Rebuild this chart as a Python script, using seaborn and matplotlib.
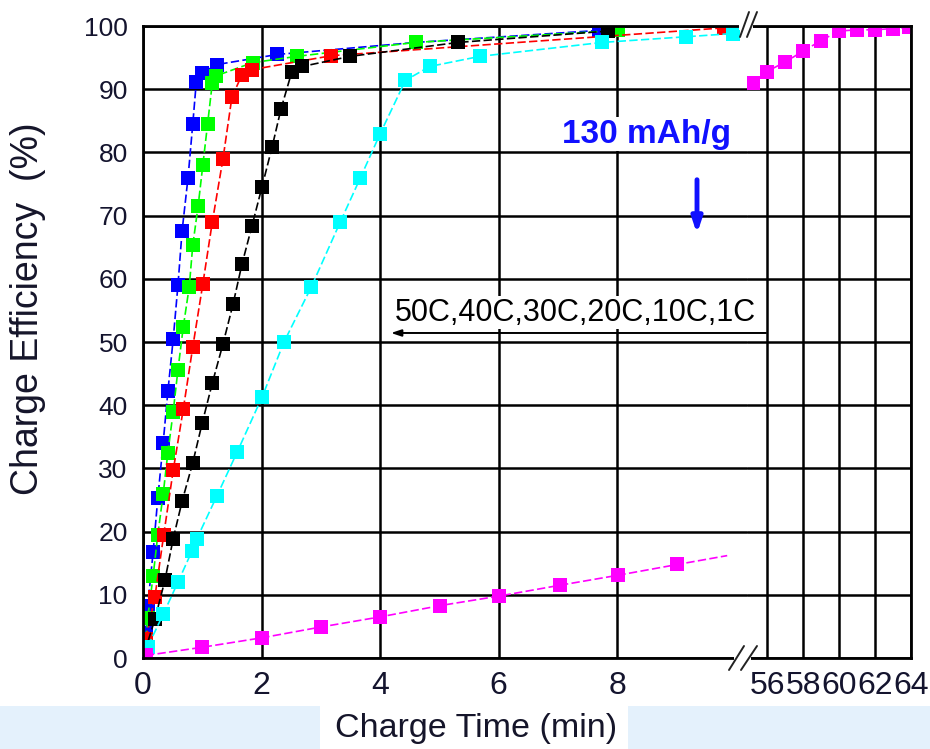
import matplotlib
matplotlib.use("Agg")
import matplotlib.pyplot as plt
import seaborn as sns
from matplotlib.lines import Line2D
from matplotlib.patches import Rectangle

# ---- data: charge time (min) vs charge efficiency (%) ----
rates = ["50C", "40C", "30C", "20C", "10C", "1C"]

t_50c = [0.05, 0.08, 0.17, 0.25, 0.34, 0.42, 0.51, 0.59, 0.66, 0.76, 0.84,
         0.90, 1.00, 1.25, 2.27, 4.60, 7.69]
e_50c = [4.0, 8.2, 16.7, 25.3, 34.0, 42.2, 50.5, 59.0, 67.6, 76.0, 84.5,
         91.2, 92.6, 93.9, 95.5, 97.4, 99.3]

t_40c = [0.05, 0.08, 0.17, 0.25, 0.34, 0.42, 0.51, 0.59, 0.68, 0.78, 0.84,
         0.93, 1.01, 1.09, 1.17, 1.23, 1.85, 2.60, 4.60, 8.02]
e_40c = [3.0, 6.4, 12.9, 19.5, 25.9, 32.5, 39.0, 45.6, 52.4, 58.7, 65.3,
         71.5, 78.0, 84.5, 91.0, 92.1, 94.2, 95.2, 97.4, 99.3]

t_30c = [0.05, 0.20, 0.35, 0.51, 0.68, 0.84, 1.01, 1.17, 1.35, 1.50, 1.67,
         1.84, 3.18, 9.80]
e_30c = [3.0, 9.6, 19.5, 29.7, 39.4, 49.2, 59.2, 69.0, 79.0, 88.7, 92.3,
         93.1, 95.3, 99.7]

t_20c = [0.03, 0.20, 0.37, 0.51, 0.66, 0.84, 1.00, 1.17, 1.35, 1.52, 1.67,
         1.84, 2.01, 2.18, 2.33, 2.51, 2.69, 3.50, 5.32, 7.85]
e_20c = [1.0, 6.1, 12.3, 18.9, 24.8, 30.9, 37.2, 43.5, 49.7, 56.0, 62.3,
         68.4, 74.6, 80.9, 86.9, 92.7, 93.6, 95.2, 97.4, 99.2]

t_10c = [0.08, 0.34, 0.59, 0.83, 0.91, 1.25, 1.59, 2.01, 2.38, 2.84, 3.33,
         3.67, 4.00, 4.43, 4.84, 5.69, 7.75, 9.17, 9.95]
e_10c = [1.8, 6.9, 12.0, 17.0, 18.9, 25.7, 32.6, 41.3, 50.0, 58.7, 69.0,
         76.0, 82.9, 91.4, 93.6, 95.2, 97.4, 98.3, 98.8]

t_1c_early = [0.05, 1.0, 2.01, 3.0, 4.0, 5.02, 6.01, 7.03, 8.02, 9.02, 9.86]
e_1c_early = [0.4, 1.7, 3.2, 4.9, 6.5, 8.3, 9.8, 11.5, 13.1, 14.8, 16.2]

t_1c_late = [55.2, 56, 57, 58, 59, 60, 61, 62, 63, 63.9]
e_1c_late = [91.0, 92.8, 94.3, 96.0, 97.7, 99.2, 99.4, 99.4, 99.6, 99.8]

xticks_early = [0, 2, 4, 6, 8]
xticks_late = [56, 58, 60, 62, 64]
yticks = list(range(0, 101, 10))

colors = {"50C": "#0000ff", "40C": "#00ff00", "30C": "#ff0000",
          "20C": "#000000", "10C": "#00ffff", "1C": "#ff00ff"}

# ---- style ----
sns.set_style("white")
plt.rcParams["font.family"] = ["Liberation Sans", "DejaVu Sans"]
TICK_COLOR = "#14142e"

W, H = 930, 749
fig = plt.figure(figsize=(W / 100, H / 100), dpi=100)


def fx(px):
    return px / W


def fy(py):
    return 1 - py / H


LEFT, MID, RIGHT = 143, 747, 911
TOP, BOTTOM = 26, 658
ax1 = fig.add_axes([fx(LEFT), fy(BOTTOM), fx(MID) - fx(LEFT), fy(TOP) - fy(BOTTOM)])
ax2 = fig.add_axes([fx(MID), fy(BOTTOM), fx(RIGHT) - fx(MID), fy(TOP) - fy(BOTTOM)])
ax1.set_zorder(2)


def draw(ax, x, y, color, markevery=None):
    sns.lineplot(x=x, y=y, ax=ax, color=color, sort=False, estimator=None,
                 linestyle=(0, (5, 2)), linewidth=1.2, marker="s",
                 markersize=10, markeredgewidth=0, markevery=markevery)


draw(ax1, t_50c, e_50c, colors["50C"])
draw(ax1, t_40c, e_40c, colors["40C"])
draw(ax1, t_30c, e_30c, colors["30C"])
draw(ax1, t_20c, e_20c, colors["20C"])
draw(ax1, t_10c, e_10c, colors["10C"])
draw(ax1, t_1c_early, e_1c_early, colors["1C"],
     markevery=list(range(len(t_1c_early) - 1)))
draw(ax2, t_1c_late, e_1c_late, colors["1C"])

# ---- axes, grid, ticks ----
ax1.set_xlim(0, (MID - LEFT) / 59.25)
ax2.set_xlim(56 - (767 - MID) / 18.0, 64)
for ax in (ax1, ax2):
    ax.set_ylim(0, 100)
    ax.set_yticks(yticks)
    ax.grid(True, color="black", linewidth=1.8)
    ax.set_axisbelow(True)
    ax.tick_params(length=0)
    for s in ax.spines.values():
        s.set_color("black")
        s.set_linewidth(2)
    ax.set_xlabel("")
    ax.set_ylabel("")

ax1.set_xticks(xticks_early)
ax1.set_xticklabels([str(v) for v in xticks_early])
ax2.set_xticks(xticks_late)
ax2.set_xticklabels([str(v) for v in xticks_late])
ax1.set_yticklabels([str(v) for v in yticks])
ax2.set_yticklabels([])
ax1.spines["right"].set_visible(False)
ax2.spines["left"].set_visible(False)

ax1.tick_params(axis="x", labelsize=23, pad=9, colors=TICK_COLOR)
ax2.tick_params(axis="x", labelsize=23, pad=9, colors=TICK_COLOR)
ax1.tick_params(axis="y", labelsize=19, pad=11, colors=TICK_COLOR)

# ---- annotations ----
ax1.text((562 - LEFT) / 59.25, (657.5 - 143) / 6.31, "130 mAh/g",
         color="#1010ff", fontsize=24, fontweight="bold", va="baseline",
         ha="left", zorder=5, clip_on=False,
         bbox=dict(facecolor="white", edgecolor="none", pad=1))
ax1.annotate("", xy=((697 - LEFT) / 59.25, (657.5 - 234) / 6.31),
             xytext=((697 - LEFT) / 59.25, (657.5 - 180) / 6.31),
             arrowprops=dict(arrowstyle="-|>,head_length=0.9,head_width=0.3",
                             color="#1010ff", lw=3.5, shrinkA=0, shrinkB=0),
             zorder=5)

ax1.text((395 - LEFT) / 59.25, (657.5 - 321) / 6.31, ",".join(rates),
         color="black", fontsize=22, va="baseline", ha="left", zorder=5,
         clip_on=False,
         bbox=dict(facecolor="white", edgecolor="none", pad=1))
ax1.annotate("", xy=((391 - LEFT) / 59.25, (657.5 - 333) / 6.31),
             xytext=((766 - LEFT) / 59.25, (657.5 - 333) / 6.31),
             arrowprops=dict(arrowstyle="-|>,head_length=0.6,head_width=0.2",
                             color="black", lw=1.4, shrinkA=0, shrinkB=0),
             annotation_clip=False, zorder=6)

# axis titles
fig.text(fx(476), fy(728), "Charge Time (min)", fontsize=24.5, color="#15152a",
         ha="center", va="center")
fig.text(fx(28), fy(309), "Charge Efficiency  (%)", fontsize=27,
         color="#15152a", ha="center", va="center", rotation=90)

# ---- axis break marks ----
for (x0, x1, y0, y1) in [(734, 751, 654, 662), (739, 753, 22, 30)]:
    fig.patches.append(Rectangle((fx(x0), fy(y1)), fx(x1) - fx(x0),
                                 fy(y0) - fy(y1), transform=fig.transFigure,
                                 facecolor="white", edgecolor="none", zorder=3))
for (xa, ya, xb, yb) in [(729, 670, 744, 646), (741, 670, 757, 646),
                         (740, 37, 749, 12), (747, 37, 757, 12)]:
    fig.lines.append(Line2D([fx(xa), fx(xb)], [fy(ya), fy(yb)],
                            transform=fig.transFigure, color="#222222",
                            lw=1.4, zorder=4))

# light page strips around the axis title
for (x0, x1) in [(0, 320), (628, 930)]:
    fig.patches.append(Rectangle((fx(x0), 0), fx(x1) - fx(x0), fy(706),
                                 transform=fig.transFigure,
                                 facecolor="#e4f1fc", edgecolor="none",
                                 zorder=0))

fig.savefig("out.png", dpi=100)
